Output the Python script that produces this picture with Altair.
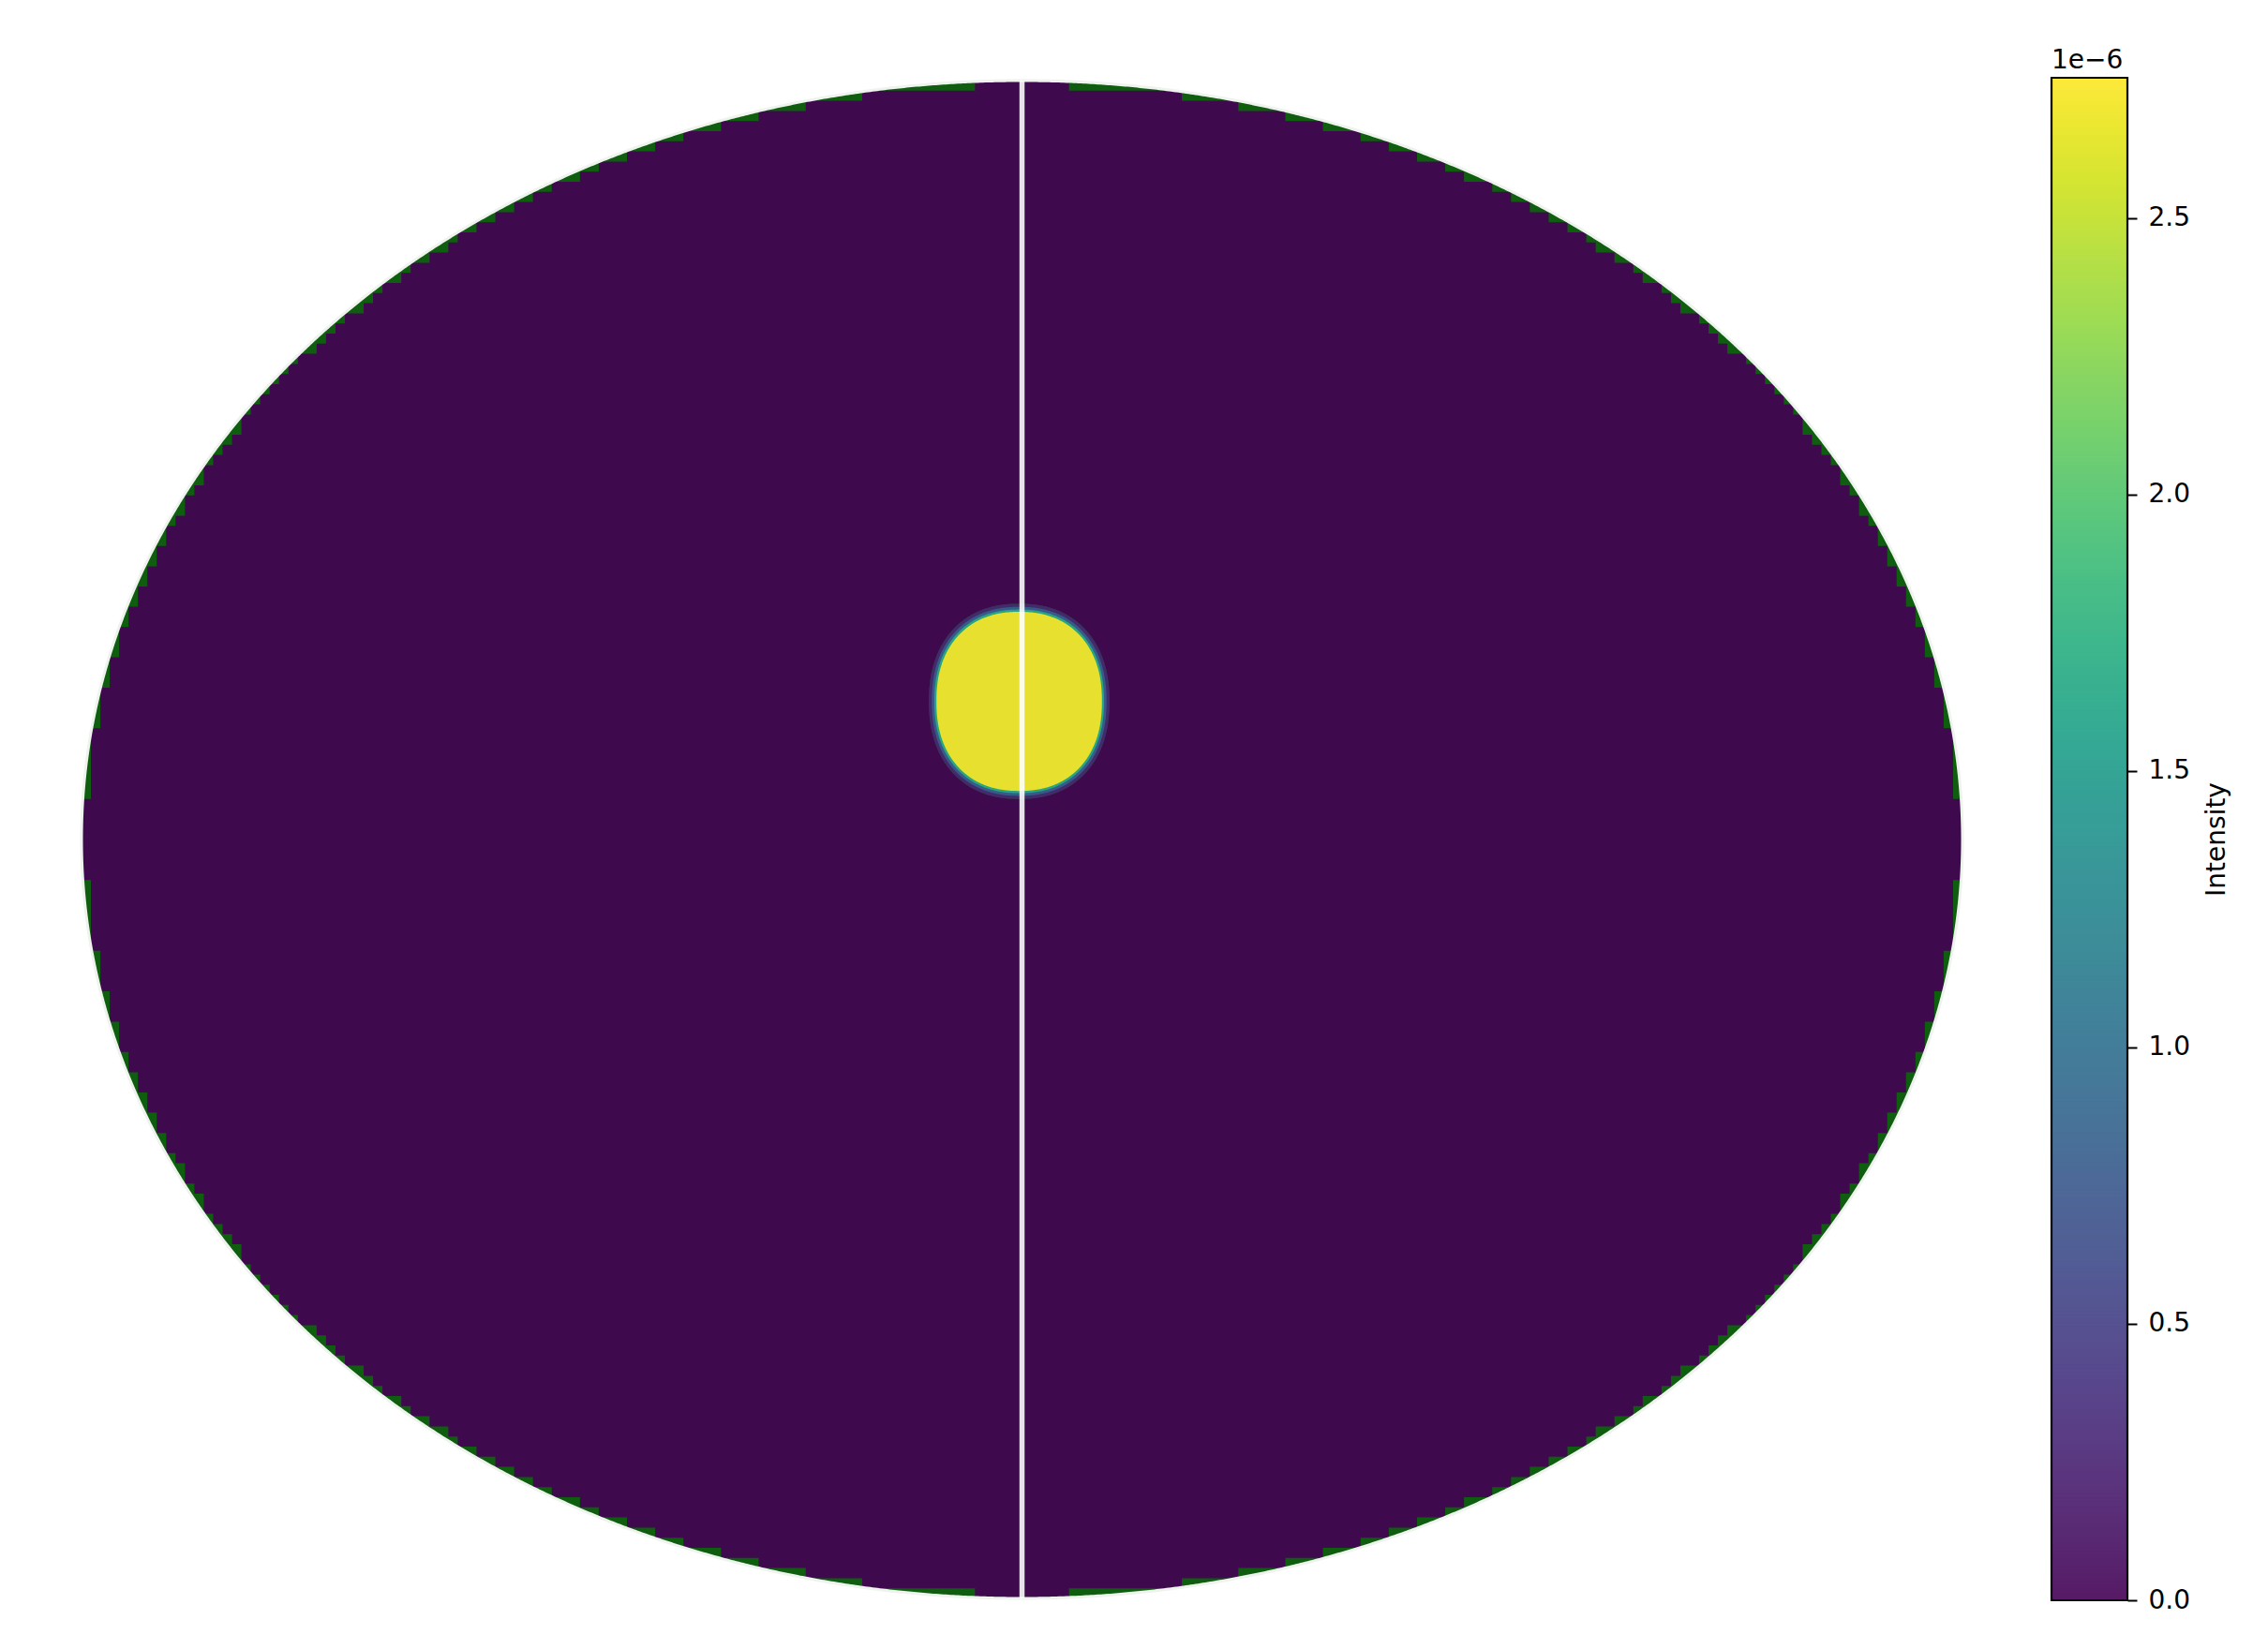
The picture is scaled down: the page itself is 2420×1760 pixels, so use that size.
import altair as alt
import numpy as np
import pandas as pd

# ---------------- values ----------------
# Mollweide sky map, normalised so the sky ellipse spans x in [-1, 1], y in [-1, 1]
MAP_COLS = 200            # raster columns of the rendered map
MAP_ROWS = 150            # raster rows of the rendered map
EDGE_TOLERANCE = 0.003    # how far a raster cell corner may reach past the sky edge
BACKGROUND_INTENSITY = 0.0
SOURCE_PEAK = 2.754e-6
SOURCE_CENTER = [-0.003, 0.182]
SOURCE_HALF_SIZE = [0.088, 0.118]
SOURCE_SHAPE_EXP = 2.25
EDGE_FRACTIONS = [0.10, 0.30, 0.62, 1.0]      # fraction of the peak, outer -> inner
EDGE_RADII = [1.09, 1.055, 1.025, 1.0]
MERIDIAN_X = [0.0]
CBAR_MIN = 0.0
CBAR_MAX = 2.754e-6
CBAR_TICKS = [0.0, 0.5e-6, 1.0e-6, 1.5e-6, 2.0e-6, 2.5e-6]
CBAR_TITLE = "Intensity"
CBAR_OFFSET_TEXT = ["1e\u22126"]

FONT = "DejaVu Sans"
GREEN = "#0f5e0f"
OUTLINE = "#eef3ee"

Y_TOP = 1.0037
Y_BOTTOM = -1.0025

# ---------------- geometry tables ----------------
t = np.linspace(0, np.pi, 1201)
sky = pd.DataFrame({"x": -np.cos(t), "top": np.sin(t)})
sky["bottom"] = -sky["top"]
mask_top = pd.DataFrame({"x": sky["x"], "top": Y_TOP, "bottom": sky["top"]})
mask_bot = pd.DataFrame({"x": sky["x"], "top": -sky["top"], "bottom": Y_BOTTOM})

tt = np.linspace(0, 2 * np.pi, 2401)
outline = pd.DataFrame({"x": np.cos(tt), "y": np.sin(tt), "k": np.arange(len(tt))})

dx = 2.0 / MAP_COLS
dy = 2.0 / MAP_ROWS
rows = []
for j in range(MAP_COLS):
    xl = -1 + j * dx
    xo = max(abs(xl), abs(xl + dx))
    lim = 1 + EDGE_TOLERANCE - xo * xo
    n = int(np.floor(np.sqrt(lim) / dy)) if lim > 0 else 0
    rows.append((xl, n * dy))
rows.append((1.0, rows[-1][1]))
raster = pd.DataFrame(rows, columns=["x", "top"])
raster["bottom"] = -raster["top"]
raster["intensity"] = BACKGROUND_INTENSITY


def source_shape(radius, frac):
    u = np.linspace(np.pi, 0, 361)
    c = np.cos(u)
    s = np.sin(u)
    e = 2.0 / SOURCE_SHAPE_EXP
    x = SOURCE_CENTER[0] + SOURCE_HALF_SIZE[0] * radius * np.sign(c) * np.abs(c) ** e
    h = SOURCE_HALF_SIZE[1] * radius * np.abs(s) ** e
    return pd.DataFrame({"x": x, "top": SOURCE_CENTER[1] + h,
                         "bottom": SOURCE_CENTER[1] - h,
                         "intensity": SOURCE_PEAK * frac})


meridian = pd.DataFrame({"x": MERIDIAN_X, "y": [1.0], "y2": [-1.0]})

# ---------------- scales ----------------
xs = alt.Scale(domain=[-1, 1], nice=False, zero=False)
ys = alt.Scale(domain=[Y_BOTTOM, Y_TOP], nice=False, zero=False)
cs = alt.Scale(scheme="viridis", domain=[CBAR_MIN, CBAR_MAX])


def area_enc(ch):
    return ch.encode(
        x=alt.X("x:Q", scale=xs, axis=None),
        y=alt.Y("top:Q", scale=ys, axis=None),
        y2="bottom:Q",
    )


layers = []
layers.append(area_enc(alt.Chart(sky).mark_area(color=GREEN)))
layers.append(area_enc(alt.Chart(raster).mark_area(interpolate="step-after", opacity=0.9))
              .encode(color=alt.Color("intensity:Q", scale=cs, legend=None)))
layers.append(area_enc(alt.Chart(source_shape(EDGE_RADII[0], 0)).mark_area(color=GREEN)))
for r, f in zip(EDGE_RADII, EDGE_FRACTIONS):
    layers.append(area_enc(alt.Chart(source_shape(r, f)).mark_area(opacity=0.9))
                  .encode(color=alt.Color("intensity:Q", scale=cs, legend=None)))
layers.append(area_enc(alt.Chart(mask_top).mark_area(color="white")))
layers.append(area_enc(alt.Chart(mask_bot).mark_area(color="white")))
layers.append(alt.Chart(outline).mark_line(color=OUTLINE, strokeWidth=3).encode(
    x=alt.X("x:Q", scale=xs, axis=None),
    y=alt.Y("y:Q", scale=ys, axis=None),
    order="k:Q",
))
layers.append(alt.Chart(meridian).mark_rule(color="white", opacity=0.88, strokeWidth=5.5).encode(
    x=alt.X("x:Q", scale=xs, axis=None),
    y=alt.Y("y:Q", scale=ys, axis=None),
    y2="y2:Q",
))

main = alt.layer(*layers).properties(width=2007, height=1625)

# ---------------- colour bar ----------------
vals = np.linspace(CBAR_MIN, CBAR_MAX, 401)
step = vals[1] - vals[0]
cells = pd.DataFrame({"v": vals[:-1], "v2": np.minimum(vals[:-1] + 1.6 * step, CBAR_MAX),
                      "x0": 0.0, "x1": 1.0})
frame = pd.DataFrame({"v": [CBAR_MIN], "v2": [CBAR_MAX], "x0": [0.0], "x1": [1.0]})
offset_df = pd.DataFrame({"v": [CBAR_MAX], "x0": [0.0], "label": CBAR_OFFSET_TEXT})

cb_y = alt.Scale(domain=[CBAR_MIN, CBAR_MAX], nice=False, zero=False)
cb_x = alt.Scale(domain=[0, 1], nice=False, zero=False)

cbar_cells = alt.Chart(cells).mark_rect().encode(
    x=alt.X("x0:Q", scale=cb_x, axis=None),
    x2="x1:Q",
    y=alt.Y("v:Q", scale=cb_y, axis=alt.Axis(
        orient="right", values=CBAR_TICKS, grid=False, domain=False,
        labelExpr="format(datum.value * 1e6, '.1f')",
        tickSize=10, tickWidth=2, tickColor="black",
        labelFont=FONT, labelFontSize=28, labelColor="black", labelPadding=12,
        title=CBAR_TITLE, titleAngle=270, titleFont=FONT, titleFontSize=28,
        titleFontWeight="normal", titleColor="black", titlePadding=43,
    )),
    y2="v2:Q",
    color=alt.Color("v:Q", scale=cs, legend=None),
)
# the colour bar is drawn at 90% opacity over white: a 10% white veil does the same
cbar_veil = alt.Chart(frame).mark_rect(color="white", opacity=0.1).encode(
    x=alt.X("x0:Q", scale=cb_x, axis=None),
    x2="x1:Q",
    y=alt.Y("v:Q", scale=cb_y),
    y2="v2:Q",
)
cbar_frame = alt.Chart(frame).mark_rect(fillOpacity=0, stroke="black", strokeWidth=2.2).encode(
    x=alt.X("x0:Q", scale=cb_x, axis=None),
    x2="x1:Q",
    y=alt.Y("v:Q", scale=cb_y),
    y2="v2:Q",
)
cbar_offset = alt.Chart(offset_df).mark_text(
    align="left", baseline="alphabetic", dy=-10, font=FONT, fontSize=28, color="black"
).encode(
    x=alt.X("x0:Q", scale=cb_x, axis=None),
    y=alt.Y("v:Q", scale=cb_y),
    text="label:N",
)
cbar = alt.layer(cbar_cells, cbar_veil, cbar_frame, cbar_offset).properties(width=81, height=1625)

chart = alt.hconcat(main, cbar, spacing=95, bounds="flush").properties(
    padding={"left": 81, "top": 51, "right": 10, "bottom": 10},
    background="white",
).configure_view(strokeWidth=0)

chart.save("out.html", embed_options={"renderer": "svg", "actions": False})
